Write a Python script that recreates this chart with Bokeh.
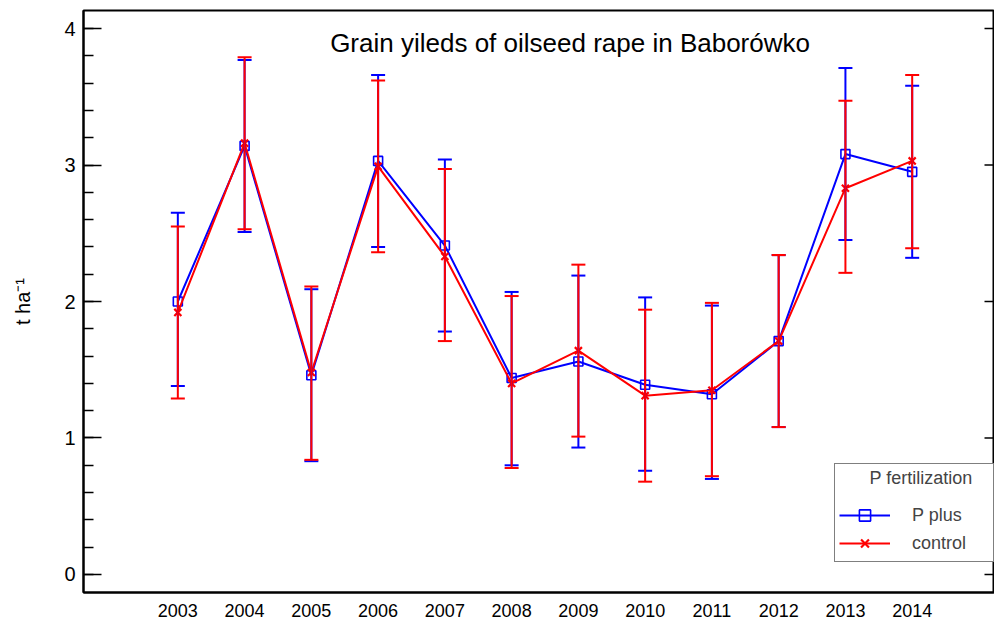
from bokeh.plotting import figure
from bokeh.models import (ColumnDataSource, Whisker, TeeHead, Range1d, LinearAxis,
                          FixedTicker, SingleIntervalTicker, Legend, LegendItem, Label)
from bokeh.embed import file_html
from bokeh.resources import INLINE
import math

years = [2003, 2004, 2005, 2006, 2007, 2008, 2009, 2010, 2011, 2012, 2013, 2014]
year_labels = {y: str(y) for y in years}
y_ticks = [0, 1, 2, 3, 4]

p_plus = [2.00, 3.14, 1.46, 3.03, 2.41, 1.44, 1.56, 1.39, 1.32, 1.71, 3.08, 2.95]
p_plus_upper = [2.65, 3.77, 2.09, 3.66, 3.04, 2.07, 2.19, 2.03, 1.97, 2.34, 3.71, 3.58]
p_plus_lower = [1.38, 2.51, 0.83, 2.40, 1.78, 0.80, 0.93, 0.76, 0.70, 1.08, 2.45, 2.32]

control = [1.92, 3.16, 1.48, 2.99, 2.33, 1.40, 1.64, 1.31, 1.35, 1.71, 2.83, 3.03]
control_upper = [2.55, 3.79, 2.11, 3.62, 2.97, 2.04, 2.27, 1.94, 1.99, 2.34, 3.47, 3.66]
control_lower = [1.29, 2.53, 0.84, 2.36, 1.71, 0.78, 1.01, 0.68, 0.72, 1.08, 2.21, 2.39]

title_text = "Grain yileds of oilseed rape in Baborówko"
y_label = "t ha\u207b\u00b9"
legend_title = "P fertilization"
series_names = ["P plus", "control"]

BLUE = "#0000ff"
RED = "#ff0000"
SANS = "Liberation Sans"

src_p = ColumnDataSource(dict(x=years, y=p_plus, upper=p_plus_upper, lower=p_plus_lower))
src_c = ColumnDataSource(dict(x=years, y=control, upper=control_upper, lower=control_lower))

xr = Range1d(2001.587, 2015.233)
p = figure(width=994, height=627, output_backend="svg", toolbar_location=None,
           x_range=xr, y_range=Range1d(-0.132, 4.132),
           x_axis_location=None, y_axis_location=None,
           min_border_left=83, min_border_right=0, min_border_top=10, min_border_bottom=35)
p.grid.visible = False
p.outline_line_color = "black"
p.outline_line_width = 2
p.background_fill_color = "white"
p.border_fill_color = "white"

# left axis
yax = LinearAxis(ticker=SingleIntervalTicker(interval=1, num_minor_ticks=5),
                 axis_label=y_label)
yax.axis_line_color = "black"
yax.axis_line_width = 2
yax.major_tick_in = 18
yax.major_tick_out = 0
yax.minor_tick_in = 10
yax.minor_tick_out = 0
yax.major_tick_line_width = 1.5
yax.minor_tick_line_width = 1.5
yax.major_label_text_font = SANS
yax.major_label_text_font_size = "20px"
yax.major_label_text_color = "black"
yax.major_label_standoff = 8
yax.axis_label_text_font = SANS
yax.axis_label_text_font_size = "20px"
yax.axis_label_text_font_style = "normal"
yax.axis_label_text_color = "black"
yax.axis_label_standoff = 27
p.add_layout(yax, "left")

# right-side inward ticks at the major y values
p.ray(x=xr.end, y=y_ticks, length=10, length_units="screen", angle=math.pi,
      line_color="black", line_width=1.5)

# bottom axis
xax = LinearAxis(ticker=FixedTicker(ticks=years), major_label_overrides=year_labels)
xax.axis_line_color = "black"
xax.axis_line_width = 2
xax.major_tick_line_color = None
xax.minor_tick_line_color = None
xax.major_tick_in = 0
xax.major_tick_out = 0
xax.major_label_text_font = SANS
xax.major_label_text_font_size = "18px"
xax.major_label_text_color = "black"
xax.major_label_standoff = 11
p.add_layout(xax, "below")

def add_series(src, color, marker, msize, mlw):
    w = Whisker(source=src, base="x", upper="upper", lower="lower", dimension="height",
                line_color=color, line_width=2, level="glyph",
                upper_head=TeeHead(size=14, line_color=color, line_width=2),
                lower_head=TeeHead(size=14, line_color=color, line_width=2))
    p.add_layout(w)
    ln = p.line("x", "y", source=src, line_color=color, line_width=2)
    sc = p.scatter("x", "y", source=src, marker=marker, size=msize, line_color=color,
                   fill_color=None, line_width=mlw)
    return ln, sc

ln_p, sc_p = add_series(src_p, BLUE, "square", 9, 1.6)
ln_c, sc_c = add_series(src_c, RED, "x", 10, 2.2)

legend = Legend(items=[LegendItem(label=series_names[0], renderers=[ln_p, sc_p]),
                       LegendItem(label=series_names[1], renderers=[ln_c, sc_c])],
                title="\u2003\u2002\u2009" + legend_title,
                location=(751, 30))
legend.border_line_color = "black"
legend.border_line_width = 1.5
legend.background_fill_alpha = 1
legend.padding = 4
legend.spacing = 0
legend.margin = 0
legend.glyph_width = 51
legend.glyph_height = 28
legend.label_height = 28
legend.label_width = 77
legend.label_standoff = 22
legend.title_standoff = 12
legend.label_text_font = SANS
legend.label_text_font_size = "18px"
legend.title_text_font = SANS
legend.title_text_font_size = "18px"
legend.title_text_font_style = "normal"
p.add_layout(legend, "center")

title = Label(x=2008.875, y=3.897, text=title_text, text_align="center",
              text_baseline="middle", text_font=SANS, text_font_size="26px",
              text_color="black")
p.add_layout(title)

open("out.html", "w").write(file_html(p, INLINE))
